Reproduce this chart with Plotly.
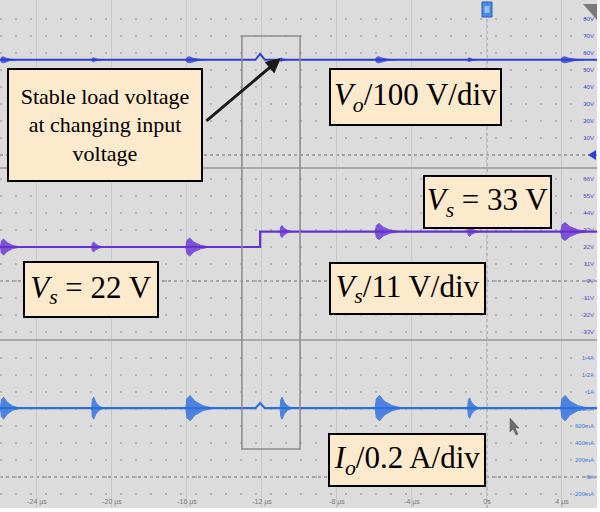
import plotly.graph_objects as go

# ---------------- data ----------------
time_ticks = [-24, -20, -16, -12, -8, -4, 0, 4]
time_tick_labels = ["-24 µs", "-20 µs", "-16 µs", "-12 µs", "-8 µs", "-4 µs", "0s", "4 µs"]

vo_ticks = [10, 20, 30, 40, 50, 60, 70, 80]
vo_tick_labels = ["10V", "20V", "30V", "40V", "50V", "60V", "70V", "80V"]
vs_ticks = [-33, -22, -11, 0, 11, 22, 33, 44, 55, 66]
vs_tick_labels = ["-33V", "-22V", "-11V", "0V", "11V", "22V", "33V", "44V", "55V", "66V"]
io_ticks = [-0.2, 0, 0.2, 0.4, 0.6, 0.8, 1.0, 1.2, 1.4]
io_tick_labels = ["-200mA", "0A", "200mA", "400mA", "600mA", "800mA", "1A", "1.2A", "1.4A"]

# base traces (time in µs)
vo_t = [-25.97, -12.35, -12.1, -11.85, 5.87]
vo_v = [56, 56, 59.5, 56, 56]
vs_t = [-25.97, -12.1, -12.1, 5.87]
vs_v = [22, 22, 32, 32]
io_t = [-25.97, -12.35, -12.1, -11.85, 5.87]
io_v = [0.81, 0.81, 0.87, 0.81, 0.81]

# switching-noise bursts
burst_t = [-25.9, -21.05, -16.0, -11.0, -5.9, -1.0, 4.0]
vo_burst_level = [56, 56, 56, 56, 56, 56, 56]
vo_burst_amp = [1.8, 1.2, 1.8, 1.2, 1.8, 1.2, 1.8]
vo_burst_dur = [0.8, 0.5, 1.0, 0.3, 1.0, 0.4, 1.2]
vs_burst_level = [22, 22, 22, 32, 32, 32, 32]
vs_burst_amp = [5.2, 3.2, 5.8, 3.9, 5.2, 3.2, 5.8]
vs_burst_dur = [1.0, 0.6, 1.2, 0.6, 1.2, 0.6, 1.4]
io_burst_level = [0.81, 0.81, 0.81, 0.81, 0.81, 0.81, 0.81]
io_burst_amp = [0.13, 0.13, 0.15, 0.13, 0.15, 0.12, 0.15]
io_burst_dur = [1.0, 0.6, 1.4, 0.6, 1.4, 0.6, 1.4]

# ---------------- styling ----------------
C_VO = "#2c3fd4"
C_VS = "#6630d4"
C_IO = "#2a6ee0"
BG = "#dcdcdc"
BOX = "#fde9cc"
SERIF = "Liberation Serif"

W, H = 597.0, 508.0   # plot area in pixels


def px(x):
    return x / W


def py(y):
    return 1 - y / H


def burst_trace(ts, levels, amps, durs, color, yaxis):
    xs, ys = [], []
    for t, lv, a, d in zip(ts, levels, amps, durs):
        xs += [t - 0.05 * d, t, t + 0.12 * d, t + 0.3 * d, t + 0.6 * d, t + d,
               t + 0.6 * d, t + 0.3 * d, t + 0.12 * d, t, t - 0.05 * d, None]
        ys += [lv, lv + 0.75 * a, lv + a, lv + 0.55 * a, lv + 0.2 * a, lv,
               lv - 0.2 * a, lv - 0.55 * a, lv - a, lv - 0.75 * a, lv, None]
    return go.Scatter(x=xs, y=ys, mode="lines", fill="toself", fillcolor=color,
                      line=dict(color=color, width=1), opacity=0.8,
                      xaxis="x", yaxis=yaxis, hoverinfo="skip")


fig = go.Figure()
fig.add_trace(go.Scatter(x=vo_t, y=vo_v, mode="lines", line=dict(color=C_VO, width=2),
                         xaxis="x", yaxis="y"))
fig.add_trace(burst_trace(burst_t, vo_burst_level, vo_burst_amp, vo_burst_dur, C_VO, "y"))
fig.add_trace(go.Scatter(x=vs_t, y=vs_v, mode="lines", line=dict(color=C_VS, width=2.2),
                         xaxis="x", yaxis="y2"))
fig.add_trace(burst_trace(burst_t, vs_burst_level, vs_burst_amp, vs_burst_dur, C_VS, "y2"))
fig.add_trace(go.Scatter(x=io_t, y=io_v, mode="lines", line=dict(color=C_IO, width=2.2),
                         xaxis="x", yaxis="y3"))
fig.add_trace(burst_trace(burst_t, io_burst_level, io_burst_amp, io_burst_dur, C_IO, "y3"))

ydot = dict(showgrid=True, gridcolor="#b4b4b4", griddash="2px,13px", gridwidth=1.5,
            zeroline=False, side="right", ticklabelposition="inside", ticks="",
            showline=False, fixedrange=True)

fig.update_layout(
    width=600, height=512,
    margin=dict(l=0, r=3, t=0, b=4),
    paper_bgcolor="white", plot_bgcolor=BG,
    showlegend=False,
    xaxis=dict(domain=[0, 1], anchor="y3", range=[-25.973, 5.867],
               tickvals=time_ticks, ticktext=time_tick_labels,
               ticklabelposition="inside", ticks="",
               tickfont=dict(size=7, color="#7a7a7a", family="Liberation Sans"),
               showgrid=True, gridcolor="#c6c6c6", gridwidth=1.2, zeroline=False,
               showline=False),
    yaxis=dict(domain=[py(168), 1], anchor="x", range=[-7.65, 91.18],
               tickvals=vo_ticks, ticktext=vo_tick_labels,
               tickfont=dict(size=6, color="#3b4bd0", family="Liberation Sans"), **ydot),
    yaxis2=dict(domain=[py(340), py(168)], anchor="x", range=[-38.18, 73.12],
                tickvals=vs_ticks, ticktext=vs_tick_labels,
                tickfont=dict(size=6, color="#6a45d0", family="Liberation Sans"), **ydot),
    yaxis3=dict(domain=[0, py(340)], anchor="x", range=[-0.365, 1.612],
                tickvals=io_ticks, ticktext=io_tick_labels,
                tickfont=dict(size=6, color="#3b78e0", family="Liberation Sans"), **ydot),
)

shapes = []
# dotted zero lines of each channel and the trigger (0 s) line
for yr in ["y", "y2", "y3"]:
    shapes.append(dict(type="line", xref="paper", yref=yr, x0=0, x1=1, y0=0, y1=0,
                       line=dict(color="#8e8e8e", width=1.5, dash="dot"), layer="below"))
shapes.append(dict(type="line", xref="x", yref="paper", x0=0, x1=0, y0=0, y1=1,
                   line=dict(color="#9a9a9a", width=1.2, dash="dot"), layer="below"))
# panel separators
for yy in [168, 340]:
    shapes.append(dict(type="line", xref="paper", yref="paper", x0=0, x1=1, y0=py(yy), y1=py(yy),
                       line=dict(color="#a8a8a8", width=2)))
# zoom rectangle
shapes.append(dict(type="rect", xref="x", yref="paper", x0=-13.07, x1=-9.97,
                   y0=py(449), y1=py(36), line=dict(color="#8a8a8a", width=1.5)))
# trigger icon
shapes.append(dict(type="rect", xref="paper", yref="paper", x0=px(482), x1=px(492),
                   y0=py(17), y1=py(2), fillcolor="#4a8ae8", line=dict(color="#2b5fc0", width=1)))
shapes.append(dict(type="rect", xref="paper", yref="paper", x0=px(484.5), x1=px(489.5),
                   y0=py(13), y1=py(6), fillcolor="#9cc0f2", line=dict(width=0)))
# gray corner triangle
shapes.append(dict(type="path", xref="paper", yref="paper",
                   path=f"M {px(583)},{py(4)} L {px(597)},{py(4)} L {px(597)},{py(20)} Z",
                   fillcolor="#7a7a7a", line=dict(width=0)))
# ground marker of Vo
shapes.append(dict(type="path", xref="paper", yref="paper",
                   path=f"M {px(588)},{py(155)} L {px(596)},{py(150)} L {px(596)},{py(160)} Z",
                   fillcolor=C_VO, line=dict(width=0)))
# mouse cursor
shapes.append(dict(type="path", xref="paper", yref="paper",
                   path=(f"M {px(510)},{py(418)} L {px(510)},{py(432)} L {px(513)},{py(429)} "
                         f"L {px(516)},{py(435)} L {px(518)},{py(434)} L {px(515)},{py(428)} "
                         f"L {px(519)},{py(428)} Z"),
                   fillcolor="#6e6e6e", line=dict(color="#555", width=0.5)))
fig.update_layout(shapes=shapes)


def box(text, x0, x1, y0, y1, size):
    return dict(xref="paper", yref="paper", x=px((x0 + x1) / 2), y=py((y0 + y1) / 2),
                xanchor="center", yanchor="middle", text=text, showarrow=False,
                bgcolor=BOX, bordercolor="black", borderwidth=2, borderpad=0,
                width=x1 - x0 - 4, height=y1 - y0 - 4, align="center", valign="middle",
                font=dict(family=SERIF, size=size, color="black"))


annotations = [
    box("Stable load voltage<br>at changing input<br>voltage", 7, 203, 68, 182, 22),
    box("<i>V<sub>o</sub></i>/100 V/div", 329, 502, 68, 126, 31),
    box("<i>V<sub>s</sub></i> = 33 V", 423, 552, 175, 229, 31),
    box("<i>V<sub>s</sub></i> = 22 V", 23, 159, 261, 318, 31),
    box("<i>V<sub>s</sub></i>/11 V/div", 329, 486, 262, 315, 31),
    box("<i>I<sub>o</sub></i>/0.2 A/div", 328, 486, 433, 487, 31),
    dict(xref="x", yref="y", x=-10.99, y=57, ax=-76, ay=64, text="", showarrow=True,
         arrowhead=2, arrowsize=1, arrowwidth=3, arrowcolor="#1a1a1a", standoff=0),
]
fig.update_layout(annotations=annotations)

fig.write_html("out.html", config={"displayModeBar": False},
               post_script="document.body.style.margin='0';document.body.style.padding='0';")
